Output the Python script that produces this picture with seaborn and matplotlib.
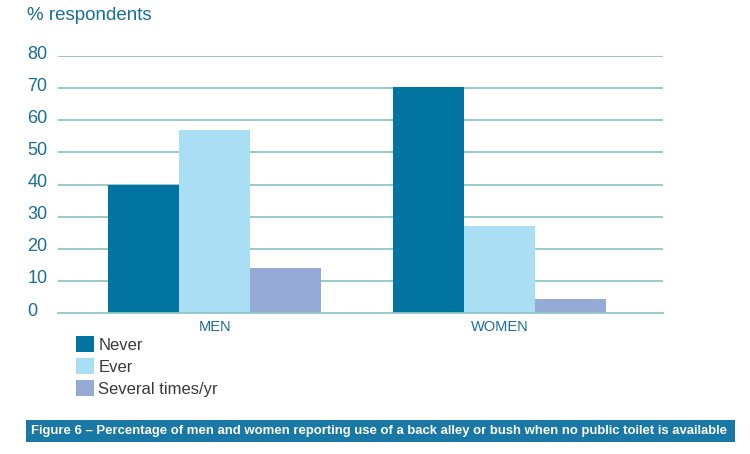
import matplotlib.pyplot as plt
import matplotlib.patches as mpatches
import matplotlib.transforms as mtransforms
import numpy as np
import pandas as pd
import seaborn as sns

groups = ['MEN', 'WOMEN']
answers = ['Never', 'Ever', 'Several times/yr']
never = [40, 70.5]
ever = [57, 27]
several = [14, 4.5]

colors = ['#0073a0', '#a9def5', '#95abd5']
grid_col = '#8fc7cd'
blue_txt = '#1a6e9a'
caption = 'Figure 6 \u2013 Percentage of men and women reporting use of a back alley or bush when no public toilet is available'

rows = []
for i, g in enumerate(groups):
    rows.append((g, answers[0], never[i]))
    rows.append((g, answers[1], ever[i]))
    rows.append((g, answers[2], several[i]))
df = pd.DataFrame(rows, columns=['group', 'answer', 'pct'])

sns.set_style('white')
plt.rcParams['font.family'] = ['Liberation Sans', 'DejaVu Sans']

fig = plt.figure(figsize=(7.5, 4.54), dpi=100)
ax = fig.add_axes([58 / 750, 1 - 313 / 454, (663 - 58) / 750, (313 - 56) / 454])

sns.barplot(data=df, x='group', y='pct', hue='answer', order=groups, hue_order=answers,
            palette=colors, width=0.75, gap=0, saturation=1, linewidth=0, ax=ax, legend=False)

ax.set_xlim(-0.55, 1.574)
ax.set_ylim(0, 80)
ax.set_yticks(range(0, 81, 10))
for y in range(10, 81, 10):
    ax.axhline(y, color=grid_col, lw=1.3, zorder=0)
ax.set_axisbelow(True)
for s in ['left', 'right', 'top']:
    ax.spines[s].set_visible(False)
ax.spines['bottom'].set_color(grid_col)
ax.spines['bottom'].set_linewidth(1.3)
ax.set_xlabel('')
ax.set_ylabel('')
ax.tick_params(axis='y', length=0, pad=22, labelsize=13, labelcolor=blue_txt)
shift = mtransforms.ScaledTranslation(0, 4 / 100, fig.dpi_scale_trans)
for lab in ax.get_yticklabels():
    lab.set_horizontalalignment('left')
    lab.set_transform(lab.get_transform() + shift)
ax.tick_params(axis='x', length=0, pad=5, labelsize=10.5, labelcolor=blue_txt)

fig.text(27 / 750, 1 - 15 / 454, '% respondents', fontsize=13.5, color=blue_txt, va='center', ha='left')

handles = [mpatches.Patch(facecolor=c, edgecolor='none') for c in colors]
fig.legend(handles, answers, loc='upper left', bbox_to_anchor=(76 / 750, 1 - 336 / 454),
           frameon=False, fontsize=12, handlelength=1.1, handleheight=1.1,
           handletextpad=0.25, labelspacing=0.32, borderpad=0, borderaxespad=0,
           labelcolor='#3a3a3a')

fig.patches.append(mpatches.Rectangle((26 / 750, 1 - 442 / 454), (735 - 26) / 750, 22 / 454,
                                      transform=fig.transFigure, facecolor='#1a78a6',
                                      edgecolor='none'))
cap = fig.text(31 / 750, 1 - 431 / 454, caption, fontsize=11, fontweight='bold',
               color='white', va='center', ha='left')
fig.canvas.draw()
w = cap.get_window_extent().width
cap.set_fontsize(11 * 700 / w)

fig.savefig('out.png', dpi=100)
